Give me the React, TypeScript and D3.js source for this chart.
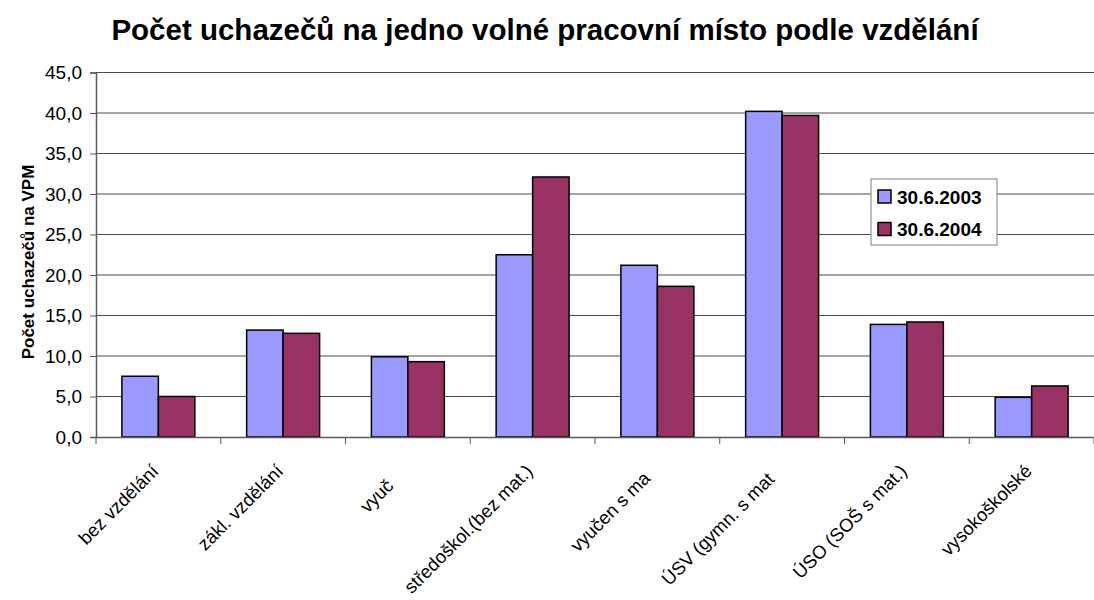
import React, { useRef, useEffect } from "react";
import * as d3 from "d3";

// full category names
const categories: string[] = [
  "bez vzdělání",
  "zákl. vzdělání",
  "vyučen",
  "středoškol.(bez mat.)",
  "vyučen s mat.",
  "ÚSV (gymn. s mat.)",
  "ÚSO (SOŠ s mat.)",
  "vysokoškolské",
];

// what is actually readable on the axis (some labels are clipped in the original)
const shownLabels: string[] = [
  "bez vzdělání",
  "zákl. vzdělání",
  "vyuč",
  "středoškol.(bez mat.)",
  "vyučen s ma",
  "ÚSV (gymn. s mat",
  "ÚSO (SOŠ s mat.)",
  "vysokoškolské",
];

const seriesNames: string[] = ["30.6.2003", "30.6.2004"];

const values2003: number[] = [7.5, 13.2, 9.9, 22.5, 21.2, 40.2, 13.9, 4.9];
const values2004: number[] = [5.0, 12.8, 9.3, 32.1, 18.6, 39.7, 14.2, 6.3];

const yTicks: number[] = [0, 5, 10, 15, 20, 25, 30, 35, 40, 45];

const colors = ["#9999FF", "#993366"];
const FONT = "'Liberation Sans', Arial, sans-serif";

export default function App() {
  const svgRef = useRef<SVGSVGElement | null>(null);

  useEffect(() => {
    const W = 1094;
    const H = 600;
    const margin = { top: 72.5, right: 0, bottom: 163, left: 96 };
    const width = W - margin.left - margin.right;
    const height = H - margin.top - margin.bottom;

    const svgEl = d3.select(svgRef.current);
    svgEl.selectAll("*").remove();
    svgEl.attr("width", W).attr("height", H).style("font-family", FONT);

    svgEl.append("rect").attr("width", W).attr("height", H).attr("fill", "#fff");

    // title
    svgEl
      .append("text")
      .attr("x", 545)
      .attr("y", 40)
      .attr("text-anchor", "middle")
      .style("font-size", "29.5px")
      .style("font-weight", "bold")
      .text("Počet uchazečů na jedno volné pracovní místo podle vzdělání");

    const g = svgEl
      .append("g")
      .attr("transform", `translate(${margin.left},${margin.top})`);

    // scales
    const x0 = d3.scaleBand<string>().domain(categories).range([0, width]).padding(0);
    const x1 = d3
      .scaleBand<string>()
      .domain(seriesNames)
      .range([0, x0.bandwidth()])
      .paddingInner(0)
      .paddingOuter(0.71);
    const y = d3.scaleLinear().domain([0, 45]).range([height, 0]);

    // gridlines
    g.append("g")
      .selectAll("line")
      .data(yTicks.filter((t) => t > 0))
      .join("line")
      .attr("x1", 0)
      .attr("x2", width)
      .attr("y1", (d) => y(d))
      .attr("y2", (d) => y(d))
      .attr("stroke", "#4a4a4a")
      .attr("stroke-width", 1);

    // y axis
    const yAxis = g
      .append("g")
      .call(
        d3
          .axisLeft(y)
          .tickValues(yTicks)
          .tickSize(6)
          .tickPadding(8)
          .tickFormat((d) => d3.format(".1f")(d as number).replace(".", ","))
      );
    yAxis.select(".domain").attr("stroke", "#5a5a5a").attr("stroke-width", 1.5);
    yAxis.selectAll(".tick line").attr("stroke", "#5a5a5a");
    yAxis
      .selectAll(".tick text")
      .style("font-size", "19px")
      .style("font-family", FONT)
      .attr("fill", "#000");

    // bars
    const groups = g
      .append("g")
      .selectAll("g")
      .data(categories)
      .join("g")
      .attr("transform", (d) => `translate(${x0(d)},0)`);

    groups
      .selectAll("rect")
      .data((_, i) => [
        { s: seriesNames[0], v: values2003[i], c: colors[0] },
        { s: seriesNames[1], v: values2004[i], c: colors[1] },
      ])
      .join("rect")
      .attr("x", (d) => x1(d.s) as number)
      .attr("y", (d) => y(d.v))
      .attr("width", x1.bandwidth())
      .attr("height", (d) => height - y(d.v))
      .attr("fill", (d) => d.c)
      .attr("stroke", "#000")
      .attr("stroke-width", 1.5);

    // x axis
    const xAxis = g
      .append("g")
      .attr("transform", `translate(0,${height})`)
      .call(d3.axisBottom(x0).tickSize(0).tickFormat(() => ""));
    xAxis.select(".domain").attr("stroke", "#5a5a5a").attr("stroke-width", 1.5);
    xAxis.selectAll(".tick").remove();

    // category boundary ticks
    xAxis
      .append("g")
      .selectAll("line")
      .data(d3.range(categories.length + 1))
      .join("line")
      .attr("x1", (i) => i * x0.step())
      .attr("x2", (i) => i * x0.step())
      .attr("y1", 0)
      .attr("y2", 7)
      .attr("stroke", "#5a5a5a");

    // rotated category labels: placed as if the full name were drawn,
    // then only the visible part is kept
    xAxis
      .append("g")
      .selectAll("text")
      .data(categories)
      .join("text")
      .attr(
        "transform",
        (d) => `translate(${(x0(d) as number) + x0.bandwidth() / 2 - 8},26) rotate(-45)`
      )
      .attr("text-anchor", "start")
      .attr("dy", "0.71em")
      .style("font-size", "18.5px")
      .attr("fill", "#000")
      .each(function (d, i) {
        const t = this as SVGTextElement;
        t.textContent = d;
        const full = t.getComputedTextLength();
        t.setAttribute("x", String(-full));
        t.textContent = shownLabels[i];
      });

    // y axis title
    svgEl
      .append("text")
      .attr("transform", `translate(34,262) rotate(-90)`)
      .attr("text-anchor", "middle")
      .style("font-size", "17px")
      .style("font-weight", "bold")
      .text("Počet uchazečů na VPM");

    // legend
    const lg = svgEl.append("g").attr("transform", "translate(871,179)");
    lg.append("rect")
      .attr("width", 126)
      .attr("height", 66)
      .attr("fill", "#fff")
      .attr("stroke", "#808080")
      .attr("stroke-width", 1);
    seriesNames.forEach((name, i) => {
      const row = lg.append("g").attr("transform", `translate(7,${11 + i * 32.5})`);
      row
        .append("rect")
        .attr("width", 13)
        .attr("height", 13)
        .attr("fill", colors[i])
        .attr("stroke", "#000")
        .attr("stroke-width", 1.5);
      row
        .append("text")
        .attr("x", 19)
        .attr("y", 13.5)
        .style("font-size", "19px")
        .style("font-weight", "bold")
        .text(name);
    });
  }, []);

  return (
    <div style={{ position: "absolute", left: 0, top: 0 }}>
      <svg ref={svgRef} style={{ display: "block" }} />
    </div>
  );
}
